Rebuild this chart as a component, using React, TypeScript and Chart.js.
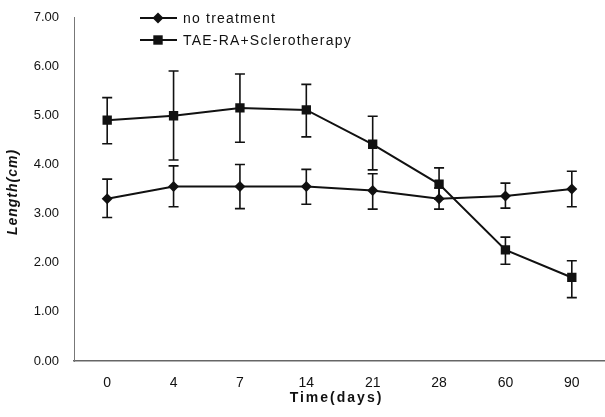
import React, { useEffect, useRef } from 'react';
import { Chart, registerables } from 'chart.js';

Chart.register(...registerables);

const categories = ['0', '4', '7', '14', '21', '28', '60', '90'];
const yTickValues = [0, 1, 2, 3, 4, 5, 6, 7];

const noTreatment = [3.3, 3.55, 3.55, 3.55, 3.47, 3.3, 3.36, 3.5];
const noTreatmentUpper = [3.7, 3.97, 4.0, 3.9, 3.81, 3.52, 3.62, 3.86];
const noTreatmentLower = [2.92, 3.14, 3.1, 3.19, 3.09, 3.09, 3.11, 3.14];

const taeRa = [4.9, 4.99, 5.15, 5.11, 4.41, 3.6, 2.26, 1.7];
const taeRaUpper = [5.36, 5.9, 5.84, 5.63, 4.98, 3.93, 2.52, 2.04];
const taeRaLower = [4.42, 4.09, 4.45, 4.56, 3.89, 3.3, 1.97, 1.29];

const legendLabels = ['no treatment', 'TAE-RA+Sclerotherapy'];
const xTitle = 'Time(days)';
const yTitle = 'Length(cm)';

const FONT = '"Liberation Sans", Arial, sans-serif';

export default function App() {
  const ref = useRef<HTMLCanvasElement>(null);

  useEffect(() => {
    if (!ref.current) return;

    const errorBars = {
      id: 'errorBars',
      beforeDatasetsDraw(chart: any) {
        const { ctx, scales } = chart;
        const x = scales.x;
        const y = scales.y;
        const sets = [
          [noTreatmentLower, noTreatmentUpper],
          [taeRaLower, taeRaUpper],
        ];
        ctx.save();
        ctx.strokeStyle = '#111';
        ctx.lineWidth = 1.6;
        sets.forEach(([lo, hi]) => {
          lo.forEach((l: number, i: number) => {
            const px = x.getPixelForValue(i);
            const yl = y.getPixelForValue(l);
            const yh = y.getPixelForValue(hi[i]);
            ctx.beginPath();
            ctx.moveTo(px, yl);
            ctx.lineTo(px, yh);
            ctx.moveTo(px - 5, yl);
            ctx.lineTo(px + 5, yl);
            ctx.moveTo(px - 5, yh);
            ctx.lineTo(px + 5, yh);
            ctx.stroke();
          });
        });
        ctx.restore();
      },
    };

    const overlay = {
      id: 'overlay',
      afterDraw(chart: any) {
        const { ctx, chartArea } = chart;
        ctx.save();
        // legend
        const rows = [18, 40];
        rows.forEach((ry, idx) => {
          ctx.strokeStyle = '#111';
          ctx.lineWidth = 2;
          ctx.beginPath();
          ctx.moveTo(140, ry);
          ctx.lineTo(177, ry);
          ctx.stroke();
          ctx.fillStyle = '#111';
          ctx.beginPath();
          if (idx === 0) {
            const r = 5.5;
            ctx.moveTo(158, ry - r);
            ctx.lineTo(158 + r, ry);
            ctx.lineTo(158, ry + r);
            ctx.lineTo(158 - r, ry);
            ctx.closePath();
          } else {
            ctx.rect(158 - 4.7, ry - 4.7, 9.4, 9.4);
          }
          ctx.fill();
          ctx.font = '14px ' + FONT;
          (ctx as any).letterSpacing = '1.2px';
          ctx.textAlign = 'left';
          ctx.textBaseline = 'middle';
          ctx.fillText(legendLabels[idx], 183, ry + 1);
        });
        // x title
        ctx.font = 'bold 14px ' + FONT;
        (ctx as any).letterSpacing = '2px';
        ctx.textAlign = 'center';
        ctx.textBaseline = 'middle';
        ctx.fillStyle = '#111';
        ctx.fillText(xTitle, (chartArea.left + chartArea.right) / 2 - 3, 398);
        // y title
        ctx.save();
        ctx.translate(13, 192);
        ctx.rotate(-Math.PI / 2);
        ctx.font = 'italic bold 14px ' + FONT;
        (ctx as any).letterSpacing = '1px';
        ctx.fillText(yTitle, 0, 0);
        ctx.restore();
        ctx.restore();
      },
    };

    const chart = new Chart(ref.current, {
      type: 'line',
      data: {
        labels: categories,
        datasets: [
          {
            label: legendLabels[0],
            data: noTreatment,
            borderColor: '#111',
            backgroundColor: '#111',
            borderWidth: 2,
            pointStyle: 'rectRot',
            pointRadius: 5.5,
            pointBorderWidth: 0,
            tension: 0,
          },
          {
            label: legendLabels[1],
            data: taeRa,
            borderColor: '#111',
            backgroundColor: '#111',
            borderWidth: 2,
            pointStyle: 'rect',
            pointRadius: 6.6,
            pointBorderWidth: 0,
            tension: 0,
          },
        ],
      },
      options: {
        animation: false,
        responsive: false,
        devicePixelRatio: 1,
        layout: { autoPadding: false, padding: { top: 17, right: 0, left: 0, bottom: 0 } },
        plugins: {
          legend: { display: false },
          tooltip: { enabled: false },
        },
        scales: {
          x: {
            type: 'category',
            offset: true,
            grid: { display: false, drawTicks: false },
            border: { display: true, color: '#666', width: 1.5 },
            ticks: {
              color: '#111',
              padding: 14,
              font: { family: FONT, size: 14 },
            },
            afterFit(scale: any) {
              scale.height = 56;
              scale.paddingLeft = 0;
              scale.paddingRight = 0;
            },
          },
          y: {
            min: 0,
            max: 7,
            grid: { display: false, drawTicks: false },
            border: { display: true, color: '#777', width: 1, dash: [3, 2] },
            afterBuildTicks(scale: any) {
              scale.ticks = yTickValues.map((v) => ({ value: v }));
            },
            ticks: {
              color: '#111',
              padding: 15,
              font: { family: FONT, size: 13 },
              callback: (v: any) => Number(v).toFixed(2),
            },
            afterFit(scale: any) {
              scale.width = 74;
              scale.paddingTop = 0;
              scale.paddingBottom = 0;
            },
          },
        },
      },
      plugins: [errorBars, overlay],
    });

    return () => chart.destroy();
  }, []);

  return (
    <div style={{ position: 'absolute', left: 0, top: 0, width: 605, height: 417, background: '#fff' }}>
      <canvas ref={ref} width={605} height={417} style={{ display: 'block' }} />
    </div>
  );
}
